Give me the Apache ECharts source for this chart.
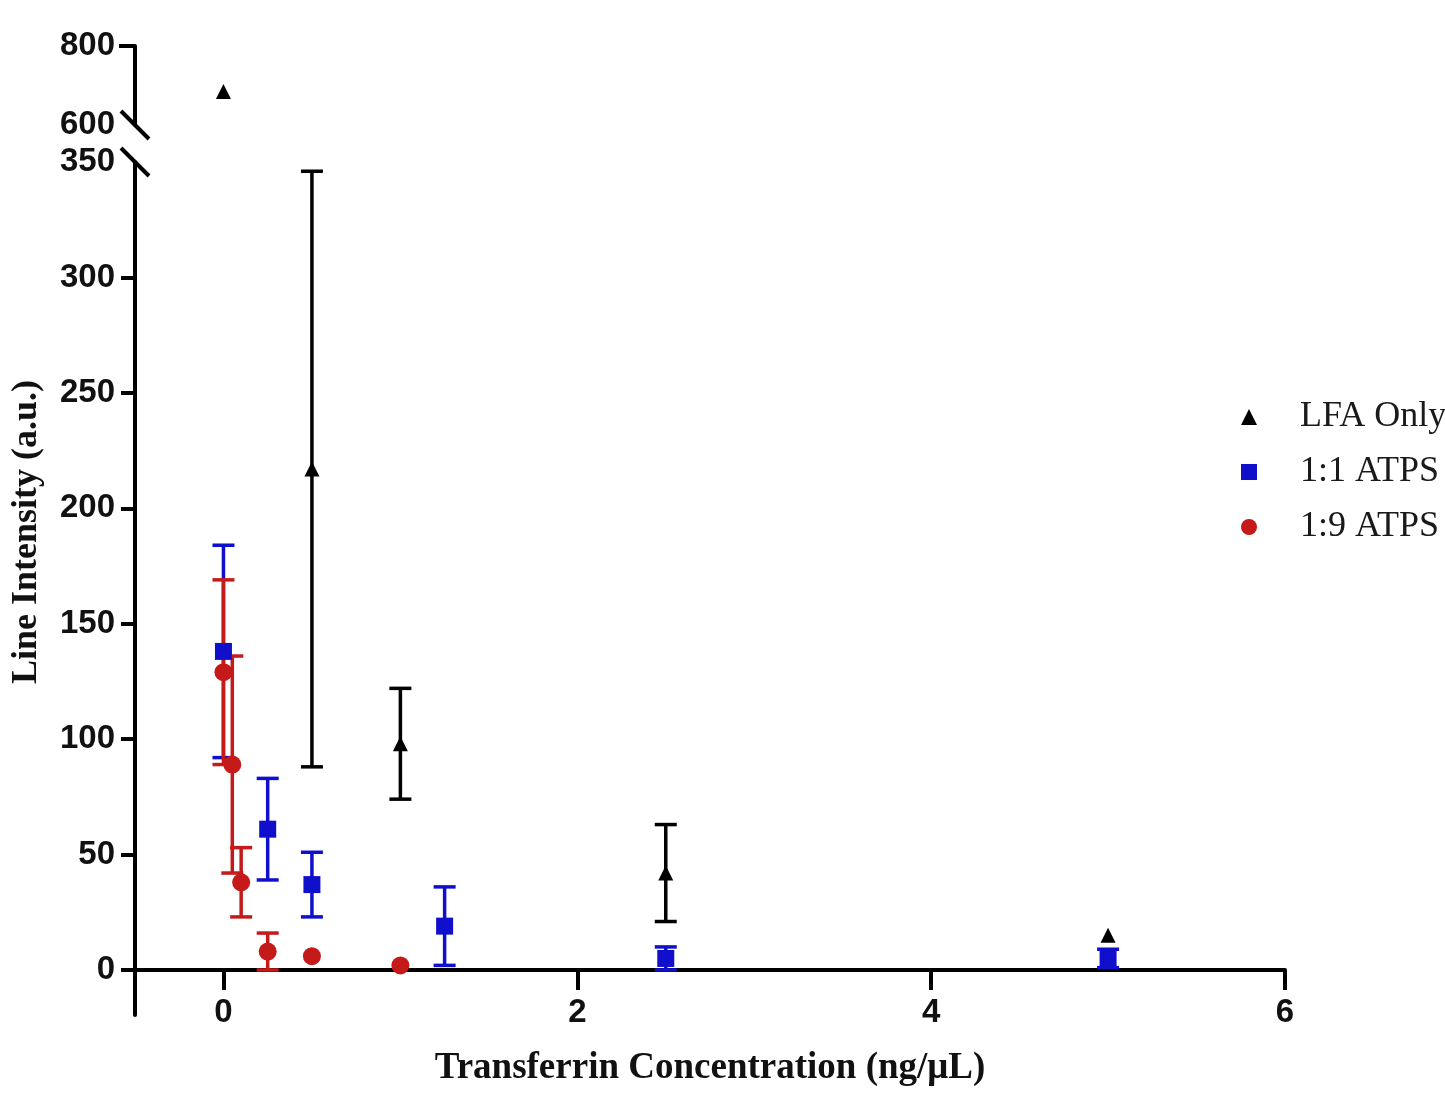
<!DOCTYPE html>
<html>
<head>
<meta charset="utf-8">
<script src="https://cdn.jsdelivr.net/npm/echarts@6/dist/echarts.min.js"></script>
<style>html,body{margin:0;padding:0;background:#fff}#chart{width:1445px;height:1095px}</style>
</head>
<body>
<div id="chart"></div>
<script>
var xTicks = [0, 2, 4, 6];
var yTicksLow = [0, 50, 100, 150, 200, 250, 300, 350];
var yTicksHigh = [600, 800];

// [concentration, mean, sd]
var lfaOnly = [[0.5, 217, 129], [1, 98, 24], [2.5, 42, 21], [5, 15, 0]];
var lfaOnlyHigh = [[0, 685]];
var atps11 = [[0, 138, 46], [0.25, 61, 22], [0.5, 37, 14], [1.25, 19, 17], [2.5, 5, 5], [5, 5, 4]];
var atps19 = [[0, 129, 40], [0.05, 89, 47], [0.1, 38, 15], [0.25, 8, 8], [0.5, 6, 0], [1, 2, 0]];

var BLACK = '#000000', BLUE = '#1010cc', RED = '#c41a1a';

var chart = echarts.init(document.getElementById('chart'));

function errSeries(id, data, color) {
  return {
    type: 'custom',
    id: id,
    name: id,
    xAxisIndex: 1,
    yAxisIndex: 1,
    data: data.filter(function (d) { return d[2] > 0; })
      .map(function (d) { return [d[0], d[1] - d[2], d[1] + d[2]]; }),
    encode: { x: 0, y: [1, 2] },
    renderItem: function (params, api) {
      var lo = api.coord([api.value(0), api.value(1)]);
      var hi = api.coord([api.value(0), api.value(2)]);
      var h = 11;
      var st = { stroke: color, lineWidth: 3.5 };
      return {
        type: 'group',
        children: [
          { type: 'line', shape: { x1: hi[0], y1: hi[1], x2: lo[0], y2: lo[1] }, style: st },
          { type: 'line', shape: { x1: hi[0] - h, y1: hi[1], x2: hi[0] + h, y2: hi[1] }, style: st },
          { type: 'line', shape: { x1: lo[0] - h, y1: lo[1], x2: lo[0] + h, y2: lo[1] }, style: st }
        ]
      };
    }
  };
}

function pts(data) {
  return data.map(function (d) { return [d[0], d[1]]; });
}

var axisLine = { show: true, onZero: false, lineStyle: { color: BLACK, width: 4 } };
var labelFont = { fontFamily: 'Liberation Sans', fontWeight: 'bold', fontSize: 33, color: '#111' };

var option = {
  animation: false,
  grid: [
    { left: 135, top: 46, width: 1150, height: 79, outerBoundsMode: 'none', containLabel: false },
    { left: 135, top: 162, width: 1150, height: 808, outerBoundsMode: 'none', containLabel: false },
    // short stub of the y axis below zero
    { left: 135, top: 968, width: 1150, height: 47, outerBoundsMode: 'none', containLabel: false }
  ],
  xAxis: [
    { type: 'value', gridIndex: 0, min: -0.5, max: 6, show: false },
    {
      type: 'value', gridIndex: 1, min: -0.5, max: 6,
      axisLine: { show: true, onZero: false, lineStyle: { color: BLACK, width: 4 } },
      axisTick: { show: true, length: 20, customValues: xTicks, lineStyle: { color: BLACK, width: 4 } },
      axisLabel: Object.assign({ customValues: xTicks, margin: 26 }, labelFont),
      splitLine: { show: false },
      name: 'Transferrin Concentration (ng/μL)',
      nameLocation: 'middle',
      nameGap: 80,
      nameTextStyle: { fontFamily: 'Liberation Serif', fontWeight: 'bold', fontSize: 37, color: '#111' }
    },
    { type: 'value', gridIndex: 2, min: -0.5, max: 6, show: false }
  ],
  yAxis: [
    {
      type: 'value', gridIndex: 0, min: 600, max: 800, interval: 200,
      axisLine: axisLine,
      axisTick: { show: true, length: 16, customValues: [800], lineStyle: { color: BLACK, width: 4 } },
      axisLabel: Object.assign({ customValues: yTicksHigh, margin: 20 }, labelFont),
      splitLine: { show: false }
    },
    {
      type: 'value', gridIndex: 1, min: 0, max: 350,
      axisLine: axisLine,
      axisTick: { show: true, length: 14, customValues: yTicksLow.slice(0, -1), lineStyle: { color: BLACK, width: 4 } },
      axisLabel: Object.assign({ customValues: yTicksLow, margin: 20 }, labelFont),
      splitLine: { show: false }
    },
    {
      type: 'value', gridIndex: 2, min: -20, max: 0,
      axisLine: axisLine,
      axisTick: { show: false },
      axisLabel: { show: false },
      splitLine: { show: false }
    }
  ],
  legend: {
    orient: 'vertical',
    left: 1236,
    top: 394,
    itemGap: 19,
    itemWidth: 16,
    itemHeight: 16,
    data: ['LFA Only', '1:1 ATPS', '1:9 ATPS'],
    textStyle: { fontFamily: 'Liberation Serif', fontSize: 36, color: '#1a1a1a', padding: [0, 0, 0, 38] }
  },
  graphic: [
    {
      type: 'text', x: 27, y: 532, rotation: Math.PI / 2,
      style: {
        text: 'Line Intensity (a.u.)', textAlign: 'center', textVerticalAlign: 'middle',
        font: 'bold 36px "Liberation Serif"', fill: '#111'
      }
    }
  ],
  series: [
    errSeries('err11', atps11, BLUE),
    { type: 'scatter', name: '1:1 ATPS', xAxisIndex: 1, yAxisIndex: 1, symbol: 'rect', symbolSize: 17,
      itemStyle: { color: BLUE, opacity: 1 }, data: pts(atps11) },
    errSeries('err19', atps19, RED),
    { type: 'scatter', name: '1:9 ATPS', xAxisIndex: 1, yAxisIndex: 1, symbol: 'circle', symbolSize: 18,
      itemStyle: { color: RED, opacity: 1 }, data: pts(atps19) },
    errSeries('errLfa', lfaOnly, BLACK),
    { type: 'scatter', name: 'LFA Only', xAxisIndex: 1, yAxisIndex: 1, symbol: 'triangle', symbolSize: 15,
      itemStyle: { color: BLACK, opacity: 1 }, data: pts(lfaOnly) },
    { type: 'scatter', name: 'LFA Only', xAxisIndex: 0, yAxisIndex: 0, symbol: 'triangle', symbolSize: 15,
      itemStyle: { color: BLACK, opacity: 1 }, data: lfaOnlyHigh }
  ]
};
chart.setOption(option);

// axis break marks
var b1 = chart.convertToPixel({ gridIndex: 0 }, [-0.5, 600]);
var b2 = chart.convertToPixel({ gridIndex: 1 }, [-0.5, 350]);
function slash(p) {
  return { type: 'line', shape: { x1: p[0] - 14, y1: p[1] - 14, x2: p[0] + 14, y2: p[1] + 14 },
    style: { stroke: BLACK, lineWidth: 4 }, z: 100 };
}
chart.setOption({ graphic: option.graphic.concat([slash(b1), slash(b2)]) });
</script>
</body>
</html>
